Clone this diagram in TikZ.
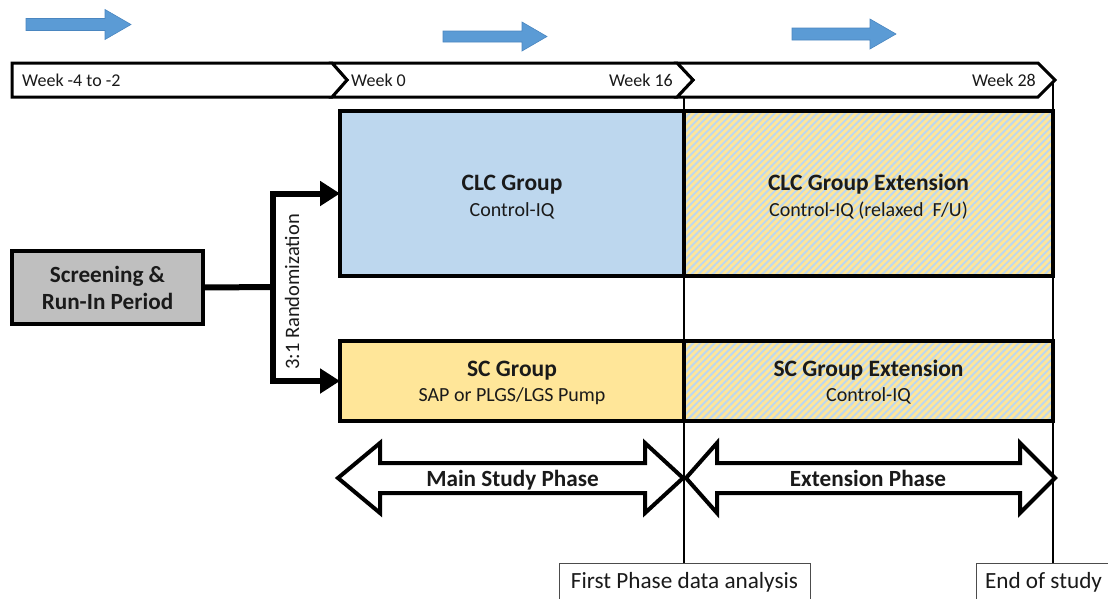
\documentclass[tikz,border=0pt]{standalone}
\usepackage{fontspec}
\setmainfont{Carlito}
\usetikzlibrary{arrows.meta,patterns.meta}
\definecolor{lblue}{HTML}{BDD7EE}
\definecolor{lyel}{HTML}{FFE699}
\definecolor{lgray}{HTML}{BFBFBF}
\definecolor{abl}{HTML}{5B9BD5}
\definecolor{abld}{HTML}{4A86C0}
\definecolor{txt}{HTML}{1A1A1A}
\begin{document}
\begin{tikzpicture}[x=1pt,y=-1pt,
  grp/.style={draw=black, line width=4pt, anchor=north west, outer sep=0pt, inner sep=0pt},
  gttl/.style={anchor=base, inner sep=0pt, text=txt, font=\bfseries\fontsize{23.5}{28}\selectfont},
  gsub/.style={anchor=base, inner sep=0pt, text=txt, font=\fontsize{20}{24}\selectfont},
  hatch/.style={preaction={fill=lyel}, pattern={Lines[angle=45,distance=5pt,line width=2pt]}, pattern color=lblue},
  chev/.style={draw=black, line width=3pt, fill=white, line join=miter},
  week/.style={font=\fontsize{18}{20}\selectfont, text=txt, inner sep=0pt},
  conn/.style={line width=6pt, line join=miter, -{Triangle[length=20pt,width=24pt]}},
  blarrow/.style={fill=abl, draw=abld, line width=0.6pt},
  dbl/.style={draw=black, line width=4pt, fill=white, line join=miter},
  phase/.style={anchor=base, inner sep=0pt, font=\bfseries\fontsize{23.2}{26}\selectfont, text=txt},
  vline/.style={draw=black, line width=1.5pt},
  lab/.style={draw=black!70, line width=0.8pt, anchor=north, outer sep=0pt, inner xsep=8pt, inner ysep=5pt,
    text height=20pt, text depth=20pt, font=\fontsize{23.2}{26}\selectfont, text=txt, fill=white}
]
\useasboundingbox (0,0) rectangle (1108,598);

% top blue arrows
\draw[blarrow] (26,18.5) -- (105,18.5) -- (105,9.5) -- (131,24.5) -- (105,39.5) -- (105,30.5) -- (26,30.5) -- cycle;
\draw[blarrow] (443,31) -- (522,31) -- (522,22) -- (547,36.5) -- (522,51) -- (522,42) -- (443,42) -- cycle;
\draw[blarrow] (792,28) -- (870,28) -- (870,19) -- (896,34) -- (870,49) -- (870,40) -- (792,40) -- cycle;

% timeline chevrons
\draw[chev] (677,63) -- (1038,63) -- (1055,80) -- (1038,97) -- (677,97) -- (693,80) -- cycle;
\draw[chev] (332,63) -- (677,63) -- (693,80) -- (677,97) -- (332,97) -- (347,80) -- cycle;
\draw[chev] (12,63) -- (332,63) -- (347,80) -- (332,97) -- (12,97) -- cycle;
\node[week, anchor=west] (w1) at (22,80) {Week -4 to -2};
\node[week, anchor=west] (w2) at (351,80) {Week 0};
\node[week, anchor=east] (w3) at (673,80) {Week 16};
\node[week, anchor=east] (w4) at (1036,80) {Week 28};

% group boxes
\node[grp, fill=lblue, minimum width=344pt, minimum height=165pt] (clc) at (340,111) {};
\node[grp, hatch, minimum width=369pt, minimum height=165pt] (clcx) at (684,111) {};
\node[grp, fill=lyel, minimum width=344pt, minimum height=80pt] (sc) at (340,341) {};
\node[grp, hatch, minimum width=369pt, minimum height=80pt] (scx) at (684,341) {};

\node[gttl] (clct) at (512,190.5) {CLC Group};
\node[gsub] (clcs) at (512,216.5) {Control-IQ};
\node[gttl] (clcxt) at (868.5,190.5) {CLC Group Extension};
\node[gsub] (clcxs) at (868.5,216.5) {Control-IQ (relaxed\ \ F/U)};
\node[gttl] (sct) at (512,376.5) {SC Group};
\node[gsub] (scs) at (512,401.5) {SAP or PLGS/LGS Pump};
\node[gttl] (scxt) at (868.5,376.5) {SC Group Extension};
\node[gsub] (scxs) at (868.5,401.5) {Control-IQ};

% screening
\node[grp, line width=3.5pt, fill=lgray, minimum width=191pt, minimum height=73pt,
  align=center, text=txt, font=\bfseries\fontsize{23.2}{27}\selectfont] (scr) at (12,251) {Screening \&\\Run-In Period};

% randomization connector
\coordinate (sp) at (273,287);
\draw[line width=6pt] (scr.east) -- (sp);
\draw[conn] (sp) |- (clc.west);
\draw[conn] (sp) |- (sc.west);
\node[rotate=90, font=\fontsize{20.5}{24}\selectfont, text=txt] (rand) at (292,292) {3:1 Randomization};

% phase arrows
\draw[dbl] (338,478) -- (380,443) -- (380,463) -- (645,463) -- (645,443) -- (683,478)
  -- (645,513) -- (645,493) -- (380,493) -- (380,513) -- cycle;
\draw[dbl] (686,478) -- (717,443) -- (717,463) -- (1020,463) -- (1020,443) -- (1055,478)
  -- (1020,513) -- (1020,493) -- (717,493) -- (717,513) -- cycle;
\node[phase] (mainp) at (512.5,486) {Main Study Phase};
\node[phase] (extp) at (868,486) {Extension Phase};

% bottom labels and vertical lines
\node[lab, minimum width=251pt] (fpa) at (684.5,563) {First Phase data analysis};
\node[lab, minimum width=134pt] (eos) at (1043.5,563) {End of study};
\coordinate (v1) at (684,98);
\coordinate (v2) at (1053,82);
\draw[vline] (v1) -- (v1 |- fpa.north);
\draw[vline] (v2) -- (v2 |- eos.north);
\end{tikzpicture}
\end{document}
